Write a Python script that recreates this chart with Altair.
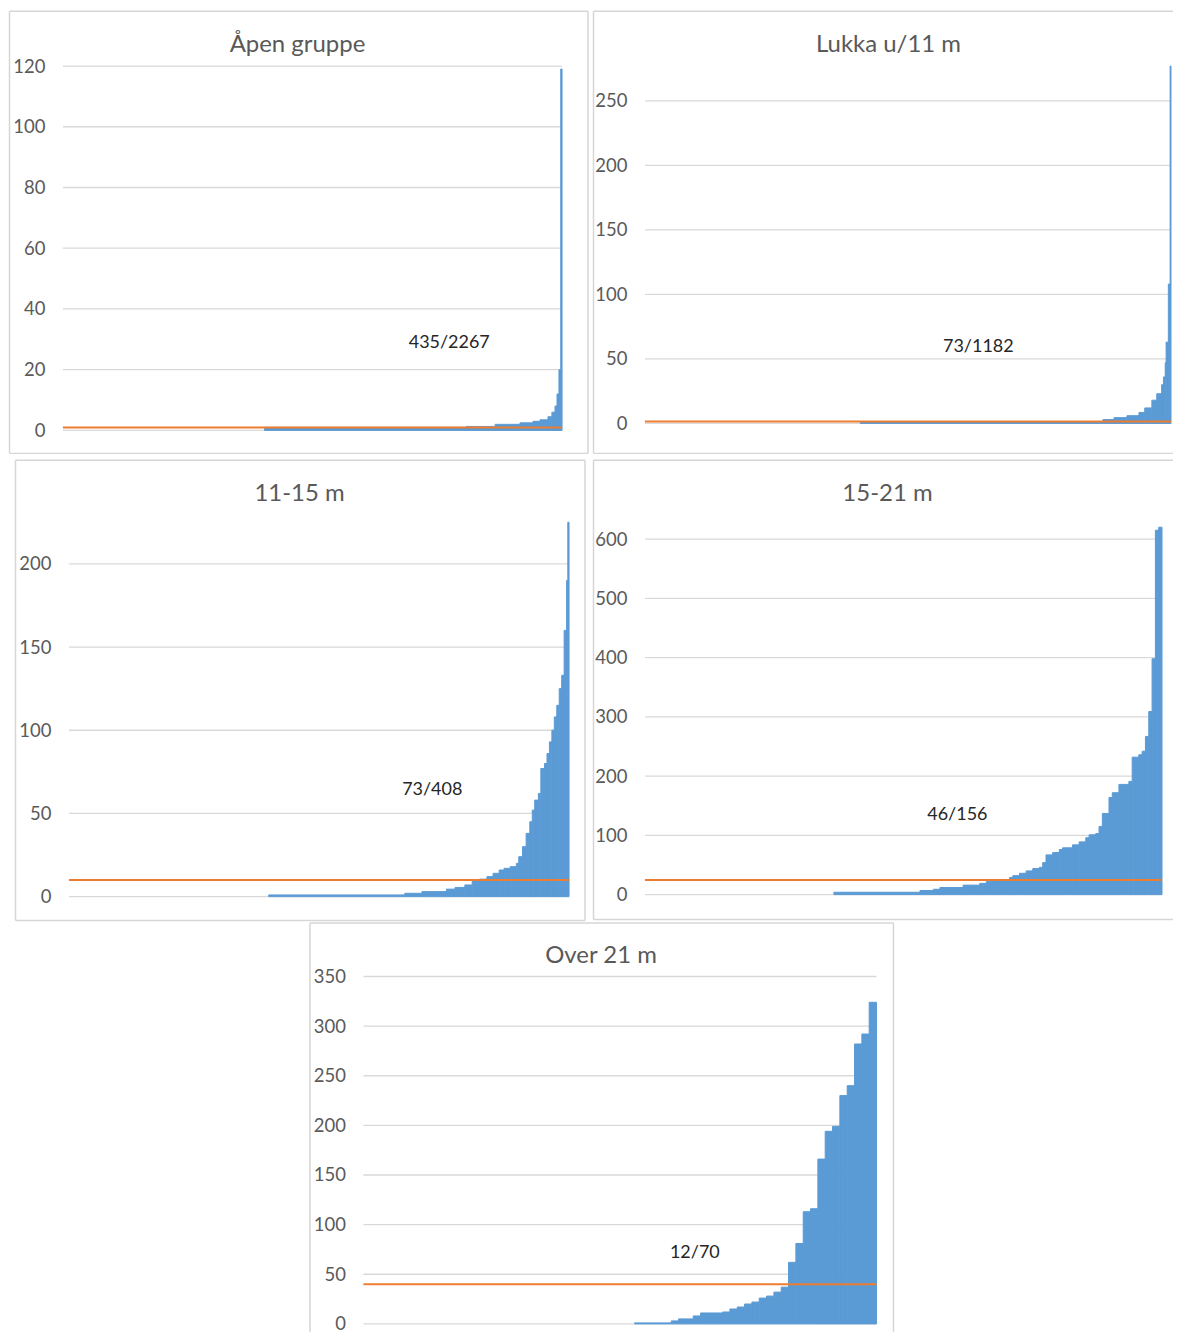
import altair as alt
import pandas as pd

BLUE = "#5b9bd5"
ORANGE = "#ed7d31"
GRID = "#d9d9d9"
TXT = "#595959"
FRAME = "#d6d6d6"
FONT = "Lato"

# ---- data (run-length: value, number of vessels with that value), sorted ascending ----
titles = ["Åpen gruppe", "Lukka u/11 m", "11-15 m", "15-21 m", "Over 21 m"]
annotations = ["435/2267", "73/1182", "73/408", "46/156", "12/70"]
thresholds = [1.0, 1.5, 10, 24.5, 40]

apen_values = [0, 1.0, 1.3, 2, 2.5, 3, 3.5, 4.5, 6, 8, 12, 20, 119]
apen_counts = [916, 916, 131, 113, 59, 32, 36, 18, 14, 9, 9, 8, 6]

lukka_values = [0, 1.2, 3, 4.5, 6, 8.5, 12, 18, 23, 30, 36, 47, 63, 108, 277]
lukka_counts = [484, 545, 25, 29, 27, 13, 16, 11, 11, 4, 4, 2, 5, 4, 2]

m11_15_values = [0, 1, 2, 3, 4.5, 5.5, 7, 9.5, 10.5, 12, 14, 16, 17, 18, 20, 24, 30, 38,
                 45, 52, 58, 62, 77, 80, 86, 93, 100, 108, 115, 125, 133, 160, 190, 225]
m11_15_counts = [163, 111, 14, 20, 7, 8, 6, 6, 6, 5, 5, 4, 5, 5, 2, 3, 3, 3,
                 2, 2, 3, 2, 3, 2, 2, 2, 2, 2, 2, 2, 2, 2, 1, 1]

m15_21_values = [0, 4, 7, 9, 12, 16, 19, 22, 24, 29, 32, 36, 40, 44, 46, 54, 67, 71, 76, 79,
                 84, 89, 96, 101, 103, 115, 137, 164, 172, 186, 191, 232, 236, 242, 267,
                 309, 398, 615, 620]
m15_21_counts = [57, 26, 4, 2, 7, 5, 2, 2, 5, 1, 2, 2, 2, 2, 1, 1, 2, 2, 1, 3,
                 2, 2, 1, 2, 1, 1, 2, 1, 2, 3, 1, 2, 1, 1, 1,
                 1, 1, 1, 1]

over21_values = [0, 1, 3, 5, 8, 11, 12, 15, 17, 20, 22, 26, 28, 32, 37, 62, 81, 113, 116,
                 166, 194, 199, 230, 240, 282, 292, 324]
over21_counts = [37, 5, 1, 2, 1, 3, 1, 1, 1, 1, 1, 1, 1, 1, 1, 1, 1, 1, 1,
                 1, 1, 1, 1, 1, 1, 1, 1]

y_max = [120, 277, 225, 620, 350]
y_ticks = [[0, 20, 40, 60, 80, 100, 120],
           [0, 50, 100, 150, 200, 250],
           [0, 50, 100, 150, 200],
           [0, 100, 200, 300, 400, 500, 600],
           [0, 50, 100, 150, 200, 250, 300, 350]]

one = pd.DataFrame({"a": [0]})


def hrule(x1, x2, y):
    return alt.Chart(one).mark_rule(color=FRAME, strokeWidth=1.5).encode(
        x=alt.value(x1), x2=alt.value(x2), y=alt.value(y))


def vrule(x, y1, y2):
    return alt.Chart(one).mark_rule(color=FRAME, strokeWidth=1.5).encode(
        x=alt.value(x), y=alt.value(y1), y2=alt.value(y2))


def panel(i, values, counts, w, h, cell, frame, sides, title_xy, label_xy,
          xr=None, yr=None, axis_offset=0, label_bg=None):
    xr = xr or (0, w)
    yr = yr or (h, 0)
    df = pd.DataFrame({"value": values, "count": counts})
    df["end"] = df["count"].cumsum()
    df["start"] = df["end"] - df["count"]
    df["base"] = 0
    n = int(df["end"].iloc[-1])
    xs = alt.Scale(domain=[0, n], nice=False, zero=False, range=list(xr))
    ys = alt.Scale(domain=[0, y_max[i]], nice=False, range=list(yr))

    # near-invisible cell: defines the panel's footprint in the layout
    cell_rect = alt.Chart(one).mark_rect(fill="white", opacity=0.01).encode(
        x=alt.value(cell[0]), x2=alt.value(cell[1]),
        y=alt.value(cell[2]), y2=alt.value(cell[3]))

    grid = alt.Chart(pd.DataFrame({"tick": y_ticks[i]})).mark_rule(
        color=GRID, strokeWidth=1.3).encode(
        y=alt.Y("tick:Q", scale=ys,
                axis=alt.Axis(values=y_ticks[i], title=None, domain=False, ticks=False,
                              grid=False, labelFont=FONT, labelFontSize=18.5,
                              labelColor=TXT, labelPadding=18, offset=axis_offset)),
        x=alt.value(xr[0]), x2=alt.value(xr[1]))

    bars = alt.Chart(df).transform_filter("datum.value > 0").mark_rect(
        color=BLUE, stroke=BLUE, strokeWidth=1).encode(
        x=alt.X("start:Q", scale=xs, axis=None),
        x2="end:Q",
        y=alt.Y("value:Q", scale=ys),
        y2="base:Q",
    )

    thr = alt.Chart(pd.DataFrame({"t": [thresholds[i]]})).mark_rule(
        color=ORANGE, strokeWidth=2).encode(
        y=alt.Y("t:Q", scale=ys), x=alt.value(xr[0]), x2=alt.value(xr[1]))

    title = alt.Chart(one).mark_text(
        font=FONT, fontSize=24, color=TXT, align="center", baseline="middle").encode(
        x=alt.value(title_xy[0]), y=alt.value(title_xy[1]), text=alt.value(titles[i]))

    label = alt.Chart(one).mark_text(
        font=FONT, fontSize=18, color="#262626", align="center", baseline="middle").encode(
        x=alt.value(label_xy[0]), y=alt.value(label_xy[1]), text=alt.value(annotations[i]))

    layers = [cell_rect, grid]
    if label_bg is not None:
        layers.append(alt.Chart(one).mark_rect(fill="white").encode(
            x=alt.value(label_bg[0]), x2=alt.value(label_bg[1]),
            y=alt.value(label_bg[2]), y2=alt.value(label_bg[3])))
    layers += [bars, thr, title, label]

    fx1, fx2, fy1, fy2 = frame
    if "l" in sides:
        layers.append(vrule(fx1, fy1, fy2))
    if "r" in sides:
        layers.append(vrule(fx2, fy1, fy2))
    if "t" in sides:
        layers.append(hrule(fx1, fx2, fy1))
    if "b" in sides:
        layers.append(hrule(fx1, fx2, fy2))

    return alt.layer(*layers).properties(width=w, height=h)


# panel origins (page px): P1 (62,65)  P2 (645,65)  P3 (62,522)  P4 (645,522)  P5 (362,977)
p1 = panel(0, apen_values, apen_counts, 500, 365,
           cell=(-54, 529, -57, 392), frame=(-53.5, 526, -55, 388), sides="lrtb",
           title_xy=(235, -21), label_xy=(387, 277))
p2 = panel(1, lukka_values, lukka_counts, 527, 358,
           cell=(-54, 529, -57, 392), frame=(-51.5, 529, -55, 388), sides="ltb",
           title_xy=(244, -21), label_xy=(334, 281), label_bg=(280, 395, 271, 292))
p3 = panel(2, m11_15_values, m11_15_counts, 507, 375,
           cell=(-54, 529, -65, 400), frame=(-47.5, 523, -62, 399), sides="lrtb",
           title_xy=(237, -28), label_xy=(370, 268), xr=(6, 507), axis_offset=-6)
p4 = panel(3, m15_21_values, m15_21_counts, 518, 373,
           cell=(-54, 529, -65, 400), frame=(-51.5, 529, -62, 398), sides="ltb",
           title_xy=(243, -28), label_xy=(313, 293), yr=(373, 5))
p5 = panel(4, over21_values, over21_counts, 514, 348,
           cell=(-54, 560, -55, 356), frame=(-53.5, 531, -53.5, 356), sides="lrt",
           title_xy=(238, -20), label_xy=(332, 277))

spacer = alt.Chart(one).mark_rect(fill="white", opacity=0.01).encode(
    x=alt.value(0), x2=alt.value(246), y=alt.value(0), y2=alt.value(10)
).properties(width=246, height=10)

row1 = alt.hconcat(p1, p2, spacing=0)
row2 = alt.hconcat(p3, p4, spacing=0)
row3 = alt.hconcat(spacer, p5, spacing=0)

chart = alt.vconcat(row1, row2, row3, spacing=0).configure_view(stroke=None).properties(
    padding={"left": 0, "top": 0, "right": 0, "bottom": 0})

chart.save("out.html", embed_options={"renderer": "svg", "actions": False})
